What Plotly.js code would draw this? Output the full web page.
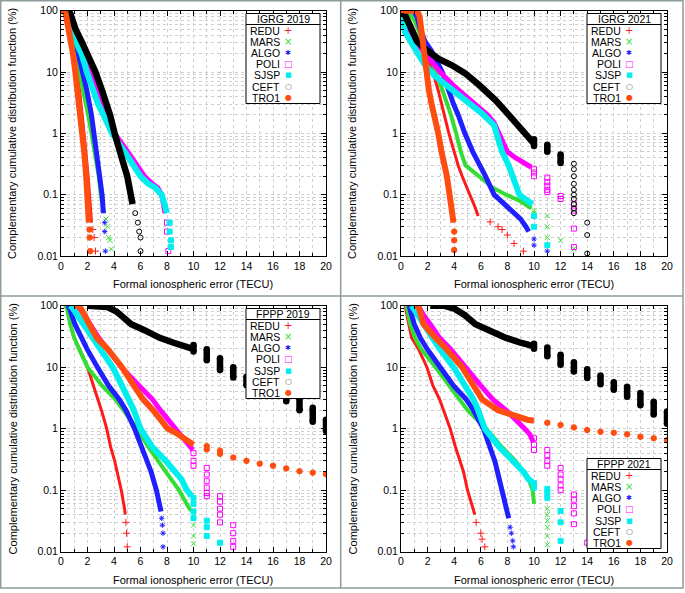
<!DOCTYPE html>
<html><head><meta charset="utf-8">
<script src="https://cdn.plot.ly/plotly-3.0.1.min.js"></script>
<style>html,body{margin:0;padding:0;background:#fff}#chart{width:685px;height:593px}</style>
</head><body><div id="chart"></div>
<script>
// ---------- labels / categories ----------
const stations = ["REDU","MARS","ALGO","POLI","SJSP","CEFT","TRO1"];
const panelTitles = ["IGRG 2019","IGRG 2021","FPPP 2019","FPPP 2021"];
const xTickVals = [0,2,4,6,8,10,12,14,16,18,20];
const yTickVals = [0.01,0.1,1,10,100];
const yTickText = ["0.01","0.1","1","10","100"];
const xTitle = "Formal ionospheric error (TECU)";
const yTitle = "Complementary cumulative distribution function (%)";

// ---------- data: curve (x,y), tail points (tx,ty), solid bars (bx, btop, bbot) ----------
const IGRG2019 = {
  REDU:{x:[0,0.2,0.4,0.7,1.0,1.2,1.4,1.6,1.75,1.9,2.05,2.15,2.25,2.3], y:[100,100,90,50,20,10,5,2,1,0.5,0.2,0.1,0.05,0.035], tx:[2.4,2.5,2.6], ty:[0.027,0.02,0.012]},
  MARS:{x:[0,0.25,0.45,0.7,1.1,1.4,1.7,2.05,2.3,2.55,2.85,3.0,3.25], y:[100,100,90,50,20,10,5,2,1,0.5,0.2,0.1,0.05], tx:[3.4,3.5,3.6,3.7,3.8], ty:[0.04,0.03,0.02,0.018,0.013]},
  ALGO:{x:[0,0.3,0.5,0.75,1.3,1.65,1.95,2.3,2.5,2.7,2.95,3.1,3.2], y:[100,100,90,50,20,10,5,2,1,0.5,0.2,0.1,0.05], tx:[3.3,3.3,3.35], ty:[0.035,0.025,0.012]},
  POLI:{x:[0,0.35,0.6,1.1,1.55,1.9,2.3,2.85,3.2,3.5,4.05,5.05,5.8,6.3,6.9,7.3,7.6,7.75,7.85], y:[100,100,90,50,30,20,10,5,3,2,1,0.5,0.3,0.2,0.15,0.13,0.1,0.07,0.05], tx:[8.0,8.0,8.1], ty:[0.035,0.025,0.012]},
  SJSP:{x:[0,0.3,0.55,1.0,1.15,1.55,1.95,2.4,2.8,3.2,3.85,4.8,5.45,6.0,6.6,7.1,7.6,7.85,8.0], y:[100,100,80,45,30,20,10,5,3,2,1,0.5,0.3,0.2,0.15,0.13,0.1,0.07,0.05], tx:[8.2,8.2,8.3,8.3], ty:[0.035,0.025,0.018,0.014]},
  CEFT:{x:[0,0.4,0.7,1.1,1.6,2.0,2.6,3.1,3.5,3.7,4.05,4.4,4.75,5.0,5.25,5.4], y:[100,100,90,50,30,20,10,5,3,2,1,0.5,0.3,0.2,0.1,0.07], tx:[5.6,5.8,5.9,6.0,6.0], ty:[0.05,0.035,0.025,0.02,0.012]},
  TRO1:{x:[0,0.15,0.35,0.6,0.9,1.08,1.25,1.45,1.6,1.75,1.9,1.98,2.05,2.1], y:[100,100,90,50,20,10,5,2,1,0.5,0.2,0.1,0.05,0.035], tx:[2.15,2.17,2.2], ty:[0.027,0.02,0.012]}
};
const IGRG2021 = {
  REDU:{x:[0,0.5,1.0,1.35,1.65,1.9,2.4,2.8,3.05,3.3,3.6,4.0,4.3,4.6,5.2,5.6,5.8], y:[100,95,70,45,28,20,10,5,3,2,1,0.5,0.3,0.2,0.1,0.06,0.045], tx:[6.7,7.3,7.6,8.0,8.5,9.2], ty:[0.036,0.03,0.027,0.022,0.016,0.012]},
  MARS:{x:[0,0.5,1.0,1.3,1.6,2.0,2.65,3.15,3.45,3.75,4.15,4.5,4.85,5.8,6.9,7.9,8.9,9.8], y:[100,95,70,50,32,22,10,5,3,2,1,0.5,0.3,0.2,0.13,0.1,0.08,0.06], tx:[10,10,11,11,11,12,13], ty:[0.055,0.05,0.045,0.03,0.02,0.018,0.013]},
  ALGO:{x:[0,0.9,1.2,1.45,1.8,2.3,3.1,3.55,3.95,4.3,4.8,5.4,5.95,6.35,7.0,7.8,8.6,9.0,9.4,9.6], y:[100,100,80,50,32,22,10,5,3,2,1,0.5,0.3,0.2,0.1,0.07,0.05,0.04,0.03,0.025], tx:[10,10,11], ty:[0.019,0.015,0.012]},
  POLI:{x:[0,0.05,0.5,1.15,1.7,3.0,4.1,5.4,6.5,7.0,7.4,7.7,8.0,8.6,9.3,9.8], y:[100,93,48,30,21,9.7,5.6,3.2,2.0,1.5,1.0,0.7,0.5,0.4,0.33,0.28], tx:[10,10,10,11,11,11,11,11,12,12,13,13,13,13], ty:[0.26,0.23,0.2,0.19,0.16,0.14,0.12,0.11,0.095,0.085,0.07,0.055,0.028,0.014]},
  SJSP:{x:[0,0.3,1.05,1.8,2.6,3.6,5.1,6.1,7.0,7.2,7.6,8.1,8.4,8.6,8.9,9.5,9.9], y:[100,45,24,13,8.4,5.7,3.3,2.1,1.35,1.0,0.5,0.3,0.2,0.15,0.1,0.08,0.07], tx:[10,10,11], ty:[0.045,0.03,0.015]},
  CEFT:{x:[0,0.3,0.8,1.2,1.8,2.8,3.8,4.8,5.85,7.1,8.1,8.6,9.1,9.6,9.95], y:[100,85,50,32,24,16.5,13,9.6,6.2,3.5,2.0,1.5,1.05,0.8,0.7], tx:[13,13,13,13,13,13,13,13,13,13,14,14,14], ty:[0.32,0.26,0.2,0.15,0.12,0.1,0.085,0.07,0.06,0.05,0.035,0.022,0.011], bx:[10,11,12], btop:[0.8,0.65,0.45], bbot:[0.62,0.5,0.33]},
  TRO1:{x:[0,1.2,1.4,1.55,1.7,1.9,2.1,2.3,2.5,2.8,3.05,3.3,3.45,3.65,3.85,3.95], y:[100,100,80,40,22,10,5,3,2,1,0.5,0.3,0.2,0.1,0.05,0.035], tx:[4.0,4.0,4.0], ty:[0.025,0.018,0.0125]}
};
const FPPP2019 = {
  REDU:{x:[0.3,0.45,0.7,0.98,1.4,2.0,2.45,2.8,3.05,3.45,3.75,4.05,4.25,4.55,4.8,4.85], y:[100,90,50,30,20,10,5,3,2,1,0.5,0.3,0.2,0.1,0.05,0.04], tx:[4.9,4.95,5.0], ty:[0.03,0.02,0.012]},
  MARS:{x:[0.3,0.45,0.7,1.0,1.35,2.0,3.1,4.1,4.7,5.75,6.6,7.3,7.9,8.9,9.7,9.95], y:[100,90,50,30,20,10,5,3,2,1,0.5,0.3,0.2,0.1,0.05,0.045], tx:[10,10,10,10], ty:[0.04,0.027,0.018,0.0135]},
  ALGO:{x:[0.5,0.65,1.05,1.5,1.95,2.75,3.6,4.4,4.9,5.55,6.1,6.5,6.8,7.2,7.45,7.55], y:[100,90,50,30,20,10,5,3,2,1,0.5,0.3,0.2,0.1,0.06,0.045], tx:[7.6,7.65,7.7,7.7], ty:[0.035,0.027,0.02,0.012]},
  POLI:{x:[1.2,1.8,2.2,2.85,3.5,4.55,5.9,6.9,7.5,8.6,9.2,9.7,9.95], y:[100,70,50,30,20,10,5,3,2,1,0.7,0.5,0.45], tx:[10,10,10,11,11,11,11,11,11,12,12,12,12,12,13,13,13,13], ty:[0.4,0.3,0.25,0.23,0.18,0.14,0.11,0.09,0.08,0.08,0.065,0.05,0.04,0.03,0.027,0.02,0.015,0.012]},
  SJSP:{x:[0.7,0.9,1.7,2.4,3.0,3.9,4.6,5.1,5.5,6.0,6.9,7.9,8.6,9.1,9.5,9.85], y:[100,90,50,30,20,10,5,3,2,1,0.5,0.3,0.2,0.15,0.1,0.08], tx:[10,10,10,10,11,11,11,12], ty:[0.075,0.06,0.045,0.035,0.032,0.025,0.018,0.014]},
  CEFT:{x:[2.0,3.0,3.5,4.2,4.9,5.3,6.3,7.45,8.5,9.9], y:[100,100,95,80,60,50,40,30,25,20], tx:[], ty:[], bx:[10,11,12,13,14,15,16,17,18,19,20], btop:[23,19.5,14,10,7,6,4.8,3.8,3.1,2.2,1.4], bbot:[18,13,9,6.8,5.1,4.3,3.6,2.8,2.0,1.3,0.92]},
  TRO1:{x:[1.0,1.3,1.5,1.9,2.3,2.7,3.5,4.6,5.5,6.2,6.95,8.05,8.7,9.3,10.0], y:[100,100,90,60,40,30,20,10,5,3,2,1,0.85,0.7,0.55], tx:[11,11,12,12,13,14,15,16,17,18,19,20], ty:[0.52,0.46,0.44,0.39,0.34,0.30,0.27,0.25,0.226,0.204,0.193,0.182]}
};
const FPPP2021 = {
  REDU:{x:[0.3,0.6,0.8,1.3,1.95,2.4,2.9,3.2,3.7,4.1,4.45,4.7,5.0,5.4,5.55], y:[100,50,30,20,10,5,3,2,1,0.5,0.3,0.2,0.1,0.05,0.04], tx:[5.65,6.0,6.1,6.3], ty:[0.03,0.02,0.016,0.012]},
  MARS:{x:[0.4,0.7,1.05,1.5,2.6,3.6,4.4,5.0,6.4,7.6,8.6,9.2,9.6,9.9,10.0], y:[100,50,30,20,10,5,3,2,1,0.5,0.3,0.2,0.15,0.1,0.06], tx:[11,11,11,11,11,11], ty:[0.05,0.04,0.032,0.025,0.018,0.013]},
  ALGO:{x:[0.6,1.0,1.45,1.95,2.95,3.95,4.9,5.45,6.2,6.7,7.05,7.25,7.6,7.95,8.1], y:[100,50,30,20,10,5,3,2,1,0.5,0.3,0.2,0.1,0.05,0.035], tx:[8.2,8.3,8.4,8.45], ty:[0.025,0.02,0.015,0.012]},
  POLI:{x:[1.3,1.7,2.2,2.9,3.7,4.8,6.0,6.9,7.9,9.3,9.7,9.95], y:[100,70,50,30,20,10,5,3,2,1,0.8,0.6], tx:[10,10,10,11,11,11,11,12,12,12,12,12,13,13,13,13,13,14], ty:[0.7,0.55,0.45,0.45,0.37,0.3,0.25,0.23,0.18,0.15,0.12,0.1,0.085,0.07,0.055,0.042,0.028,0.014]},
  SJSP:{x:[0.8,1.7,2.3,2.9,3.95,4.8,5.45,5.8,6.3,7.4,8.4,9.2,9.6,9.95], y:[100,50,30,20,10,5,3,2,1,0.5,0.3,0.2,0.15,0.13], tx:[10,10,11,11,11,12,12,12], ty:[0.13,0.11,0.105,0.09,0.075,0.046,0.03,0.015]},
  CEFT:{x:[2.2,3.2,4.0,4.8,5.6,6.5,7.9,9.0,9.95], y:[100,100,90,70,50,40,30,25,22], tx:[], ty:[], bx:[10,11,12,13,14,15,16,17,18,19,20], btop:[24,21,16,12,9.3,7.3,5.7,4.8,3.8,2.75,1.9], bbot:[20,15,11,8.5,6.7,5.3,4.3,3.3,2.4,1.7,1.2]},
  TRO1:{x:[1.0,1.3,1.5,1.7,2.6,3.4,4.6,5.4,6.1,7.3,8.5,9.5,10.0], y:[100,100,70,50,30,20,10,5,3,2,1.6,1.4,1.35], tx:[11,12,13,14,15,16,17,18,19,20], ty:[1.25,1.15,1.05,0.95,0.89,0.86,0.81,0.74,0.70,0.65]}
};

// ---------- styles ----------
const colors  = ["#ff1a1a","#33dd33","#2020ff","#ff00ff","#00eeee","#000000","#ff4d12"];
const symbols = ["cross-thin-open","x-thin-open","asterisk-open","square-open","square","circle-open","circle"];
const lineW   = [3,4,5,5,6,6.5,6];
const tailSize = [5,5,4.5,5,5,5,5.5];
const glyphs  = ["+","×","✱","□","■","○","●"];
const glyphColors = ["#ff1a1a","#33dd33","#2020ff","#ff00ff","#00eeee","#666666","#ff4d12"];
const glyphSizes = [10,10,7,9,7,8,8];

const W = 685, H = 593;
const PX = v => v / W, PY = v => 1 - v / H;
// plot areas in px: [left, right, top, bottom]
const areas = [[61,326,10.7,256],[401,667,10.7,256],[61,326,305.7,551.7],[401,667,305.7,551.7]];
// legend boxes in px: [left, top]
const legendPos = [[246,13.5],[587,13.5],[246,308.5],[587,458.5]];

const panels = [IGRG2019, IGRG2021, FPPP2019, FPPP2021];
const traces = [];
panels.forEach((P, p) => {
  const ax = p === 0 ? '' : String(p + 1);
  stations.forEach((s, i) => {
    const d = P[s];
    traces.push({type:'scatter', mode:'lines', x:d.x, y:d.y, xaxis:'x'+ax, yaxis:'y'+ax,
      line:{color:colors[i], width:lineW[i]}, showlegend:false, hoverinfo:'skip'});
    if (d.bx && d.bx.length) {
      const bxs = [], bys = [];
      d.bx.forEach((v, k) => { bxs.push(v, v, null); bys.push(d.btop[k], d.bbot[k], null); });
      traces.push({type:'scatter', mode:'lines+markers', x:bxs, y:bys, xaxis:'x'+ax, yaxis:'y'+ax,
        line:{color:colors[i], width:6.5}, marker:{symbol:'circle', size:6.5, color:colors[i]},
        showlegend:false, hoverinfo:'skip'});
    }
    if (d.tx.length) {
      traces.push({type:'scatter', mode:'markers', x:d.tx, y:d.ty, xaxis:'x'+ax, yaxis:'y'+ax,
        marker:{symbol:symbols[i], size:tailSize[i], color:colors[i], line:{color:colors[i], width:1}},
        showlegend:false, hoverinfo:'skip'});
    }
  });
});

const minorY = [];
[-2,-1,0,1].forEach(e => { for (let k = 2; k <= 9; k++) minorY.push(k * Math.pow(10, e)); });
const gridC = '#cfcfcf';
const layout = {
  width:W, height:H, margin:{l:0,r:0,t:0,b:0}, paper_bgcolor:'#fff', plot_bgcolor:'#fff',
  font:{family:'"Liberation Sans", Arial, sans-serif', size:11, color:'#000'},
  showlegend:false, shapes:[], annotations:[]
};
areas.forEach((a, p) => {
  const ax = p === 0 ? '' : String(p + 1);
  layout['xaxis'+ax] = {domain:[PX(a[0]), PX(a[1])], anchor:'y'+ax, range:[0,20], tickmode:'array', tickvals:xTickVals,
    ticks:'inside', ticklen:5, tickcolor:'#000', showline:true, linecolor:'#000', linewidth:1, mirror:'allticks',
    showgrid:true, gridcolor:gridC, griddash:'dot', zeroline:false, tickfont:{size:10.5},
    minor:{dtick:1, ticks:'inside', ticklen:3, tickcolor:'#000', showgrid:true, gridcolor:gridC, griddash:'dot'}};
  layout['yaxis'+ax] = {domain:[PY(a[3]), PY(a[2])], anchor:'x'+ax, type:'log', range:[-2,2], tickmode:'array',
    tickvals:yTickVals, ticktext:yTickText, ticks:'inside', ticklen:5, tickcolor:'#000', showline:true, linecolor:'#000',
    linewidth:1, mirror:'allticks', showgrid:true, gridcolor:gridC, griddash:'dot', zeroline:false, tickfont:{size:10.5},
    minor:{tickmode:'array', tickvals:minorY, ticks:'inside', ticklen:3, tickcolor:'#000', showgrid:true, gridcolor:gridC, griddash:'dot'}};
  // axis titles
  layout.annotations.push({xref:'paper', yref:'paper', x:PX((a[0]+a[1])/2), y:PY(a[3]+28), text:xTitle, showarrow:false,
    xanchor:'center', yanchor:'middle', font:{size:11}});
  layout.annotations.push({xref:'paper', yref:'paper', x:PX(a[0]-48.3), y:PY((a[2]+a[3])/2), text:yTitle, showarrow:false,
    textangle:-90, xanchor:'center', yanchor:'middle', font:{size:11}});
  // legend box
  const L = legendPos[p][0], T = legendPos[p][1], R = L + 74, TB = T + 11, B = TB + 79;
  layout.shapes.push({type:'rect', xref:'paper', yref:'paper', x0:PX(L), x1:PX(R), y0:PY(B), y1:PY(T),
    line:{color:'#000', width:1}, fillcolor:'#fff', layer:'above'});
  layout.shapes.push({type:'line', xref:'paper', yref:'paper', x0:PX(L), x1:PX(R), y0:PY(TB), y1:PY(TB),
    line:{color:'#000', width:1}, layer:'above'});
  layout.annotations.push({xref:'paper', yref:'paper', x:PX((L+R)/2), y:PY(T+5.2), text:panelTitles[p], showarrow:false,
    xanchor:'center', yanchor:'middle', borderpad:0, font:{size:10.5}});
  stations.forEach((s, i) => {
    const cy = TB + 6.2 + i * 11.2;
    layout.annotations.push({xref:'paper', yref:'paper', x:PX(L+34.5), y:PY(cy), text:s, showarrow:false,
      xanchor:'right', yanchor:'middle', borderpad:0, font:{size:10.5}});
    layout.annotations.push({xref:'paper', yref:'paper', x:PX(L+42), y:PY(cy), text:glyphs[i], showarrow:false,
      xanchor:'center', yanchor:'middle', borderpad:0, font:{size:glyphSizes[i], color:glyphColors[i], family:'"DejaVu Sans", sans-serif'}});
  });
});
// figure panel borders
const bc = '#8d9b9b';
layout.shapes.push({type:'rect', xref:'paper', yref:'paper', x0:PX(0.7), x1:PX(683), y0:PY(588), y1:PY(0.7), line:{color:bc, width:1.5}, layer:'above'});
layout.shapes.push({type:'line', xref:'paper', yref:'paper', x0:PX(340.7), x1:PX(340.7), y0:PY(588), y1:PY(0), line:{color:bc, width:1.5}, layer:'above'});
layout.shapes.push({type:'line', xref:'paper', yref:'paper', x0:PX(0), x1:PX(683), y0:PY(296), y1:PY(296), line:{color:bc, width:1.5}, layer:'above'});

Plotly.newPlot('chart', traces, layout, {staticPlot:true, displayModeBar:false});
</script></body></html>
